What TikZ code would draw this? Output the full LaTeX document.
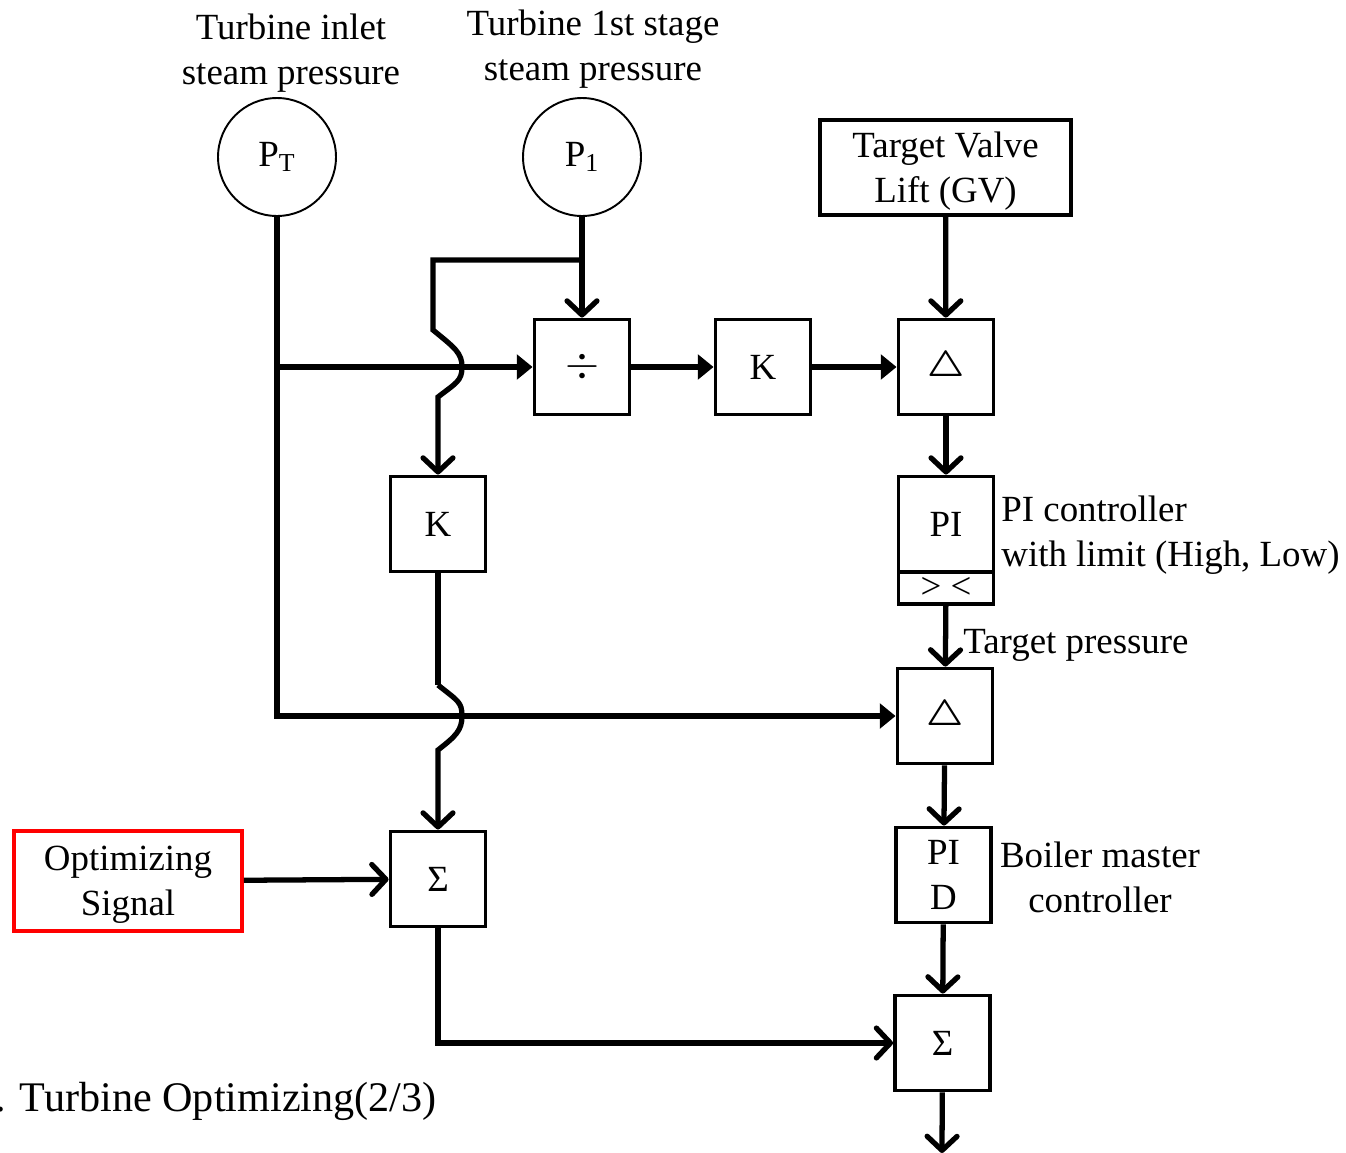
\documentclass[tikz,border=0pt]{standalone}
\usepackage{amsmath}
\usepackage{fontspec}
\setmainfont{Liberation Serif}
\usetikzlibrary{arrows.meta}

\newcommand{\firstlift}{\rule{0pt}{18.6pt}}

\begin{document}
\begin{tikzpicture}[x=0.02cm, y=-0.02cm,
    >={Straight Barb[length=8pt, width=17pt, round]},
    every node/.style={font=\fontsize{21}{25.6}\selectfont},
    conn/.style={line width=3pt},
    fillarrow/.style={-{Triangle[length=9pt, width=14pt]}},
    sensor/.style={draw, circle, minimum size=2.36cm, line width=1.1pt, inner sep=0pt},
    blk/.style={draw, rectangle, minimum size=1.9cm, line width=2.2pt, inner sep=2pt, align=center},
    plain/.style={align=center, inner sep=0pt}]

    \useasboundingbox (0,0) rectangle (1346,1153);

    % === sensors ===
    \node[sensor] (PT) at (277,157) {P\textsubscript{T}};
    \node[sensor] (P1) at (582,157) {P\textsubscript{1}};
    \node[plain] (PTlab) at (291,50) {\firstlift Turbine inlet\\steam pressure};
    \node[plain] (P1lab) at (593,46) {\firstlift Turbine 1st stage\\steam pressure};

    % === upper row ===
    \node[blk, minimum width=5.02cm] (GV) at (945.5,167.5) {\firstlift Target Valve\\Lift (GV)};
    \node[blk] (div) at (582,367) {\fontsize{27}{30}\selectfont$\div$};
    \node[blk] (K1)  at (763,367) {K};
    \node[blk] (D1)  at (946,367) {$\boldsymbol{\triangle}$};

    % === PI with limit ===
    \node[blk] (K2) at (438,524) {K};
    \node[blk] (PI) at (946,524) {PI};
    \node[blk, minimum height=0.64cm, inner sep=0pt] (lim) at (946,588) {> <};
    \node[plain, anchor=west, align=left] (PIlab) at (1001,532) {\firstlift PI controller\\with limit (High, Low)};
    \node[plain, anchor=west, text depth=0pt] (TPlab) at (963,641) {Target pressure};

    % === boiler master ===
    \node[blk] (D2)  at (945,716) {$\boldsymbol{\triangle}$};
    \node[blk] (PID) at (943.5,875) {PI\\D};
    \node[plain] (BMlab) at (1100,877) {Boiler master\\controller};

    % === summing ===
    \node[blk, draw=red, minimum width=4.56cm, minimum height=2cm] (opt) at (128,881) {\firstlift Optimizing\\Signal};
    \node[blk] (S1) at (438,879) {Σ};
    \node[blk] (S2) at (942.5,1043) {Σ};

    \node[plain, anchor=base west] (cap) at (-5,1111) {\fontsize{24}{29}\selectfont . Turbine Optimizing(2/3)};

    % === helper points ===
    \coordinate (PTtap)  at (277,367);
    \coordinate (P1tap)  at (582,260);
    \coordinate (P1bend) at (433,260);
    \coordinate (hop1)   at (462,367);
    \coordinate (K2hop)  at (438,685);
    \coordinate (hop2)   at (462,716);
    \coordinate (out)    at (942,1153);

    % === connectors ===
    % PT -> delta (pressure), PT -> divider
    \draw[conn, fillarrow] (PT) |- (D2);
    \draw[conn, fillarrow] (PTtap) -- (div);

    % P1 -> divider, P1 -> K (with hop)
    \draw[conn, ->] (P1) -- (div);
    \draw[conn, ->] (P1tap) -- (P1bend) -- ++(0,70)
        .. controls +(22,18) and +(0,-14) .. (hop1)
        .. controls +(0,14) and +(18,-14) .. ++(-24,30) -- (K2);

    % divider -> K -> delta
    \draw[conn, fillarrow] (div) -- (K1);
    \draw[conn, fillarrow] (K1) -- (D1);

    % target valve lift -> delta -> PI
    \draw[conn, ->] (GV) -- (D1);
    \draw[conn, ->] (D1) -- (PI);

    % PI -> delta -> PID -> sum
    \draw[conn, ->] (lim) -- (D2);
    \draw[conn, ->] (D2) -- (PID);
    \draw[conn, ->] (PID) -- (S2);

    % K -> sum (with hop)
    \draw[conn] (K2) -- (K2hop);
    \draw[conn, ->] (K2hop)
        .. controls +(20,16) and +(0,-14) .. (hop2)
        .. controls +(0,14) and +(18,-14) .. ++(-24,34) -- (S1);

    % optimizing signal -> sum -> sum
    \draw[conn, ->] (opt) -- (S1);
    \draw[conn, ->] (S1) |- (S2);
    \draw[conn, ->] (S2) -- (out);

\end{tikzpicture}
\end{document}
